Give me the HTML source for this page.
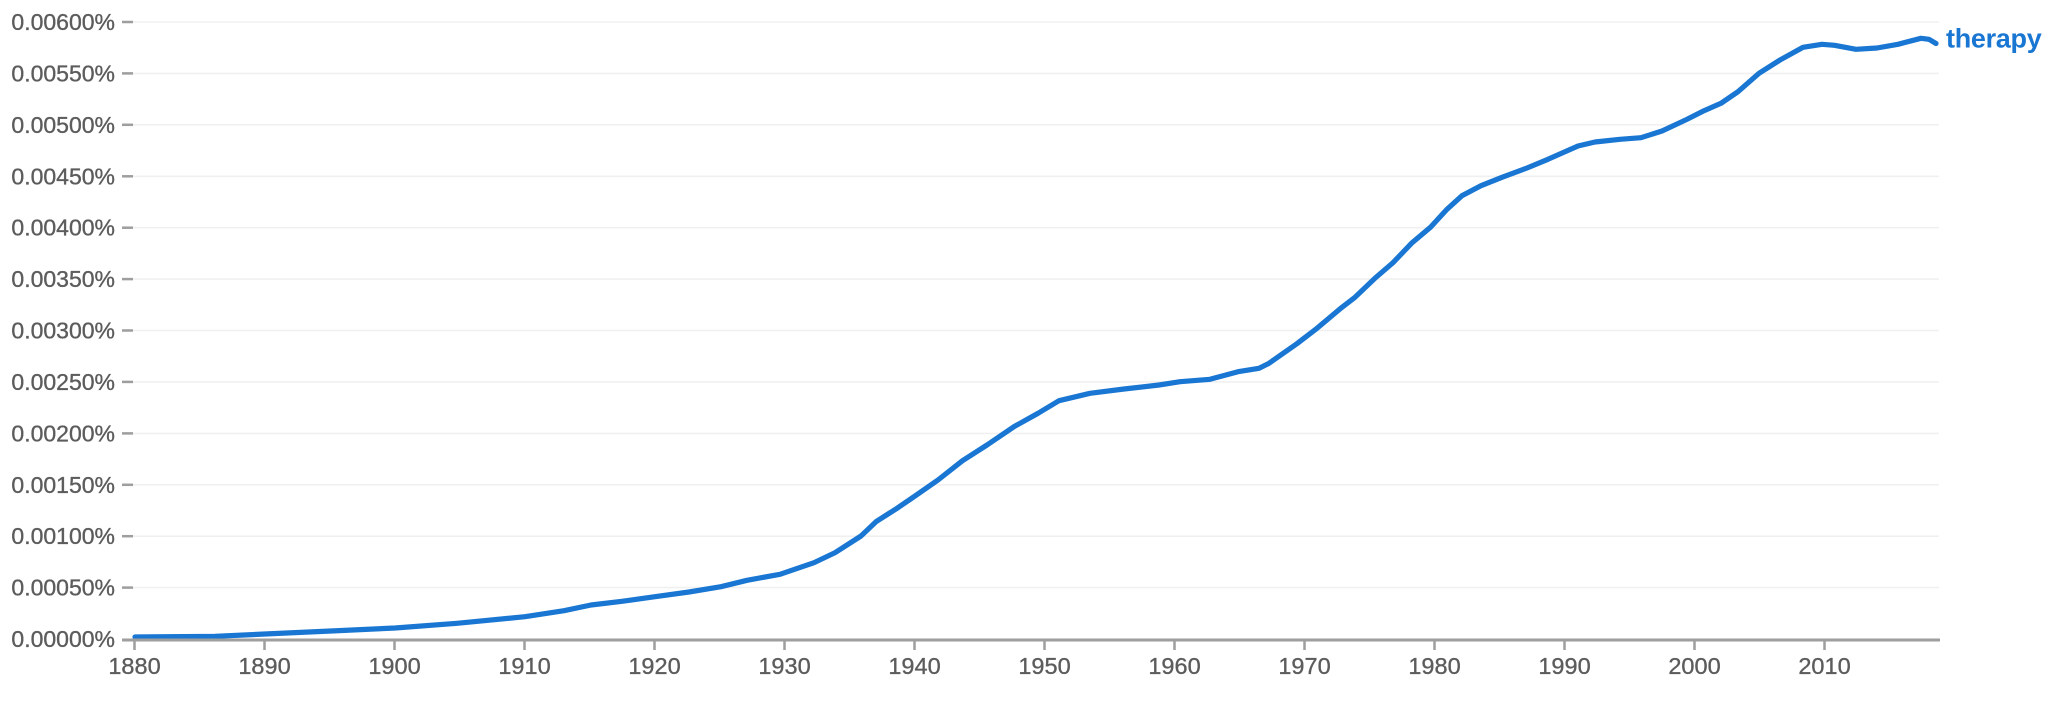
<!DOCTYPE html>
<html><head><meta charset="utf-8"><style>
html,body{margin:0;padding:0;background:#fff;}
svg{display:block;}
text{font-family:"Liberation Sans",Arial,sans-serif;}
</style></head><body>
<svg width="2058" height="712" viewBox="0 0 2058 712" xmlns="http://www.w3.org/2000/svg">
<g stroke="#f0f0f0" stroke-width="1.6">
<line x1="133" y1="22" x2="1939" y2="22"/>
<line x1="133" y1="73.4" x2="1939" y2="73.4"/>
<line x1="133" y1="124.8" x2="1939" y2="124.8"/>
<line x1="133" y1="176.3" x2="1939" y2="176.3"/>
<line x1="133" y1="227.7" x2="1939" y2="227.7"/>
<line x1="133" y1="279.1" x2="1939" y2="279.1"/>
<line x1="133" y1="330.5" x2="1939" y2="330.5"/>
<line x1="133" y1="381.9" x2="1939" y2="381.9"/>
<line x1="133" y1="433.4" x2="1939" y2="433.4"/>
<line x1="133" y1="484.8" x2="1939" y2="484.8"/>
<line x1="133" y1="536.2" x2="1939" y2="536.2"/>
<line x1="133" y1="587.6" x2="1939" y2="587.6"/>
</g>
<g stroke="#9e9e9e" stroke-width="2.5">
<line x1="122" y1="22" x2="133" y2="22"/>
<line x1="122" y1="73.4" x2="133" y2="73.4"/>
<line x1="122" y1="124.8" x2="133" y2="124.8"/>
<line x1="122" y1="176.3" x2="133" y2="176.3"/>
<line x1="122" y1="227.7" x2="133" y2="227.7"/>
<line x1="122" y1="279.1" x2="133" y2="279.1"/>
<line x1="122" y1="330.5" x2="133" y2="330.5"/>
<line x1="122" y1="381.9" x2="133" y2="381.9"/>
<line x1="122" y1="433.4" x2="133" y2="433.4"/>
<line x1="122" y1="484.8" x2="133" y2="484.8"/>
<line x1="122" y1="536.2" x2="133" y2="536.2"/>
<line x1="122" y1="587.6" x2="133" y2="587.6"/>
</g>
<g fill="#5c5c5c" stroke="#5c5c5c" stroke-width="0.35" font-size="23" text-anchor="end">
<text x="115" y="30">0.00600%</text>
<text x="115" y="81.4">0.00550%</text>
<text x="115" y="132.8">0.00500%</text>
<text x="115" y="184.3">0.00450%</text>
<text x="115" y="235.7">0.00400%</text>
<text x="115" y="287.1">0.00350%</text>
<text x="115" y="338.5">0.00300%</text>
<text x="115" y="389.9">0.00250%</text>
<text x="115" y="441.4">0.00200%</text>
<text x="115" y="492.8">0.00150%</text>
<text x="115" y="544.2">0.00100%</text>
<text x="115" y="595.6">0.00050%</text>
<text x="115" y="647">0.00000%</text>
</g>
<polyline fill="none" stroke="#1976d2" stroke-width="5.2" stroke-linejoin="round" stroke-linecap="round" points="135,637 215,636.3 265,634 331,631 395,628 457,623.3 525,616.7 564,610.7 591,605 622,601.3 655,596.7 689,592 721,586.7 747,580.3 780,574.3 814,562.7 835,552.7 861,536 876,521.7 897,508.3 914,496.7 938,480 962.5,460.7 987,445 1014,426.7 1038,413.3 1059,400.7 1090,393.3 1124,389 1159,385 1180,381.7 1210,379.3 1238,371.7 1259,368.3 1269,363.3 1296.5,344 1317,328.3 1342,307.3 1355,297.3 1376,277.3 1393,262.7 1411.5,243.3 1430.5,227.3 1447,209.3 1462,195.7 1481,185.7 1502,177.3 1527,168 1548,159.3 1578,146 1595,142 1620,139.3 1641,137.7 1662,131 1687,119.3 1704,110.7 1721,103.3 1738,91.7 1759,73.3 1780,60 1803,47.3 1822,44.3 1834.5,45.3 1856,49.3 1877,48 1898,44.3 1921,38.3 1929,39.3 1936,43.5"/>
<line x1="122" y1="640" x2="1940" y2="640" stroke="#9e9e9e" stroke-width="3"/>
<g stroke="#9e9e9e" stroke-width="2.5">
<line x1="134.5" y1="640" x2="134.5" y2="650"/>
<line x1="264.5" y1="640" x2="264.5" y2="650"/>
<line x1="394.5" y1="640" x2="394.5" y2="650"/>
<line x1="524.5" y1="640" x2="524.5" y2="650"/>
<line x1="654.5" y1="640" x2="654.5" y2="650"/>
<line x1="784.5" y1="640" x2="784.5" y2="650"/>
<line x1="914.5" y1="640" x2="914.5" y2="650"/>
<line x1="1044.5" y1="640" x2="1044.5" y2="650"/>
<line x1="1174.5" y1="640" x2="1174.5" y2="650"/>
<line x1="1304.5" y1="640" x2="1304.5" y2="650"/>
<line x1="1434.5" y1="640" x2="1434.5" y2="650"/>
<line x1="1564.5" y1="640" x2="1564.5" y2="650"/>
<line x1="1694.5" y1="640" x2="1694.5" y2="650"/>
<line x1="1824.5" y1="640" x2="1824.5" y2="650"/>
</g>
<g fill="#5c5c5c" stroke="#5c5c5c" stroke-width="0.35" font-size="23.5" text-anchor="middle">
<text x="134.5" y="674">1880</text>
<text x="264.5" y="674">1890</text>
<text x="394.5" y="674">1900</text>
<text x="524.5" y="674">1910</text>
<text x="654.5" y="674">1920</text>
<text x="784.5" y="674">1930</text>
<text x="914.5" y="674">1940</text>
<text x="1044.5" y="674">1950</text>
<text x="1174.5" y="674">1960</text>
<text x="1304.5" y="674">1970</text>
<text x="1434.5" y="674">1980</text>
<text x="1564.5" y="674">1990</text>
<text x="1694.5" y="674">2000</text>
<text x="1824.5" y="674">2010</text>
</g>
<text x="1946" y="47.5" fill="#1976d2" font-size="27" font-weight="bold" letter-spacing="-0.3">therapy</text>
</svg>
</body></html>
